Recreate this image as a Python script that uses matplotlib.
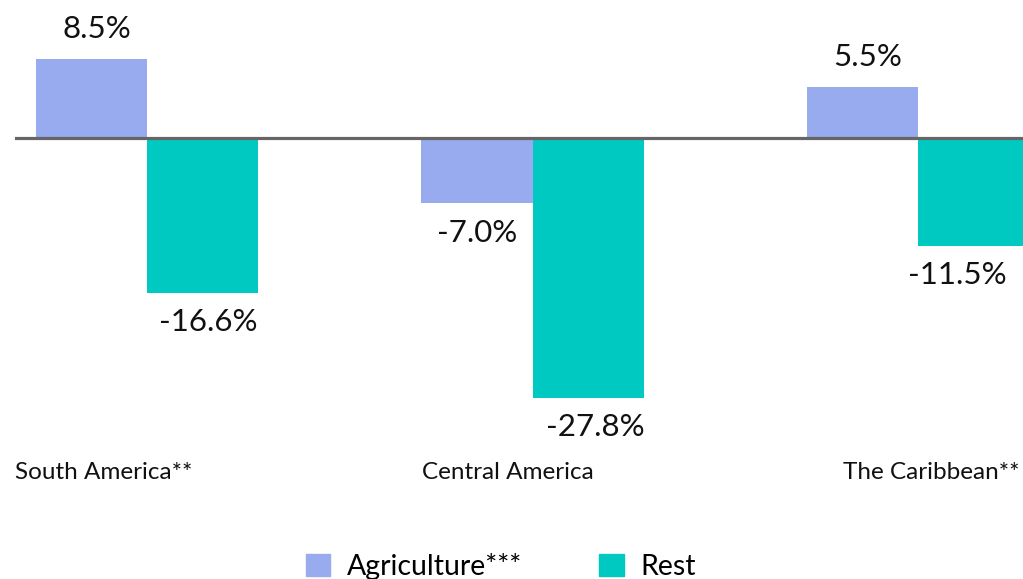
import matplotlib
matplotlib.use('Agg')
import matplotlib.pyplot as plt
from matplotlib.patches import Patch
import numpy as np

# data
regions = ['South America**', 'Central America', 'The Caribbean**']
agriculture = [8.5, -7.0, 5.5]
rest = [-16.6, -27.8, -11.5]
series_names = ['Agriculture***', 'Rest']

agri_color = '#97ABEE'
rest_color = '#00C9C1'

plt.rcParams['font.family'] = ['Lato', 'DejaVu Sans']

fig = plt.figure(figsize=(10.23, 5.79), dpi=100)
# axes starts at the zero line's left end, runs past the right edge
ax = fig.add_axes([15 / 1023, 0, 1008 / 1023, 1])
px_per_unit_x = 385.5
ax.set_xlim(-132 / px_per_unit_x, 876 / px_per_unit_x)
px_per_pct = 9.35
ax.set_ylim(-(579 - 138) / px_per_pct, 138 / px_per_pct)
ax.axis('off')

x = np.arange(len(regions))
w = 0.288
b1 = ax.bar(x - w / 2, agriculture, w, color=agri_color, zorder=2)
b2 = ax.bar(x + w / 2, rest, w, color=rest_color, zorder=2)

# zero line
ax.axhline(0, color='#666666', lw=2.3, zorder=3)

# value labels (last one nudged left, its bar runs off the edge)
nudge = [[4, 0, 4], [4, 5, -12]]
for k, (bars, vals) in enumerate([(b1, agriculture), (b2, rest)]):
    for bar, v, dx in zip(bars, vals, nudge[k]):
        cx = bar.get_x() + bar.get_width() / 2
        if v >= 0:
            ax.annotate(f'{v:.1f}%', (cx, v), xytext=(dx, 11), textcoords='offset points',
                        ha='center', va='bottom', fontsize=22.5, color='#111111')
        else:
            ax.annotate(f'{v:.1f}%', (cx, v), xytext=(dx, -11), textcoords='offset points',
                        ha='center', va='top', fontsize=22.5, color='#111111')

# category labels
label_x = [-132, 275, 696]
for lx, name in zip(label_x, regions):
    ax.text(lx / px_per_unit_x, -35.8, name, ha='left', va='center',
            fontsize=17.5, color='#111111')

handles = [Patch(color=agri_color), Patch(color=rest_color)]
fig.legend(handles, series_names, loc='upper left', bbox_to_anchor=(306 / 1023, 1 - 553 / 579),
           ncol=2, frameon=False, fontsize=20.5, handlelength=0.85, handleheight=0.85,
           handletextpad=0.6, columnspacing=2.7, borderaxespad=0, borderpad=0)

fig.savefig('out.png', dpi=100)
